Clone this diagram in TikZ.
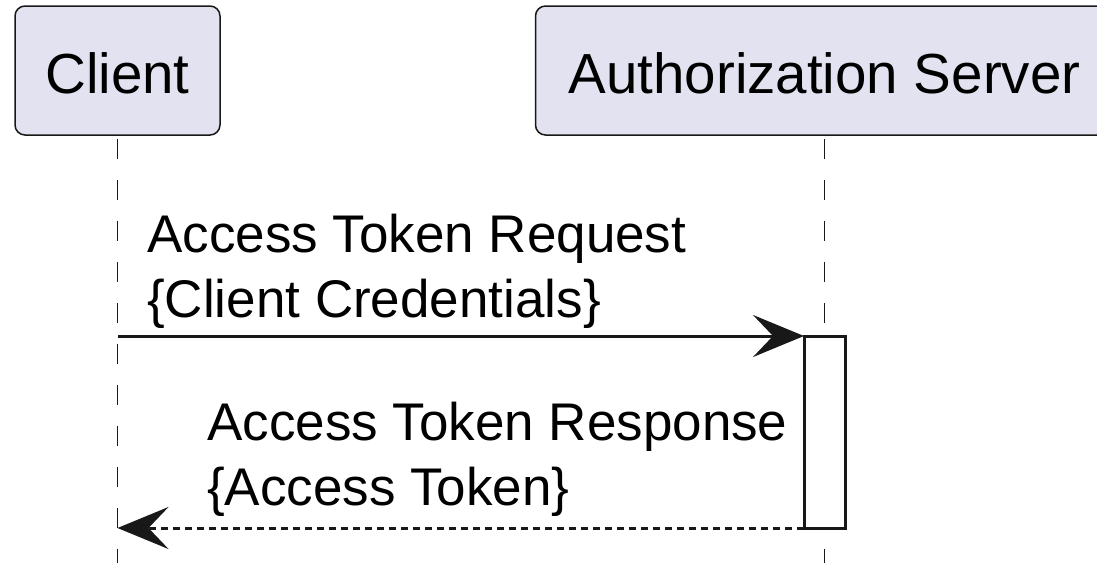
\documentclass[tikz,border=0pt]{standalone}
\usepackage{fontspec}
\setmainfont{Liberation Sans}
\usetikzlibrary{positioning,arrows.meta}
\definecolor{partyfill}{HTML}{E2E2F0}
\definecolor{ink}{HTML}{181818}

\begin{document}
\begin{tikzpicture}[x=1pt, y=-1pt, node distance = 314pt,
	party/.style = { rectangle, rounded corners=10pt, draw=ink, line width=1.5pt,
	fill=partyfill, minimum height=129pt, inner sep=0pt,
	text height=45pt, text depth=0pt, font=\fontsize{56.5}{67}\selectfont },
	life/.style = { draw=ink, line width=1.5pt,
	dash pattern=on 20pt off 21pt, dash phase=38pt },
	msg/.style = { inner sep=0pt, align=left, font=\fontsize{53}{65}\selectfont },
	tip/.style = { draw=ink, line width=3pt,
	-{Stealth[length=51pt, width=42pt, inset=20pt]} } ]

  \useasboundingbox (0,0) rectangle (1097,563);
  \clip (0,0) rectangle (1097,563);

  % participants
  \node [name=client, party, minimum width=205pt] at (117.5,70.5) { Client };
  \node [name=server, party, minimum width=578pt,
	right=of client] { Authorization Server };

  % lifelines
  \coordinate (clientfoot) at (client.south |- 0,563);
  \coordinate (serverfoot) at (server.south |- 0,563);
  \draw [life] (client.south) -- (clientfoot);
  \draw [life] (server.south) -- (serverfoot);

  % activation
  \node [name=act, rectangle, draw=ink, line width=3pt, fill=white,
	outer sep=0pt, inner sep=0pt, minimum width=41pt, minimum height=192pt]
	at (server.south |- 0,432) {};

  % messages
  \draw [tip] (act.north west -| client.south) -- (act.north west);
  \node [name=req, msg, anchor=base west] at (147,317)
	{Access Token Request\\\{Client Credentials\}};
  \draw [tip, dash pattern=on 7pt off 5pt] (act.south west)
	-- (act.south west -| client.south);
  \node [name=resp, msg, anchor=base west] at (207,505)
	{Access Token Response\\\{Access Token\}};
\end{tikzpicture}
\end{document}
